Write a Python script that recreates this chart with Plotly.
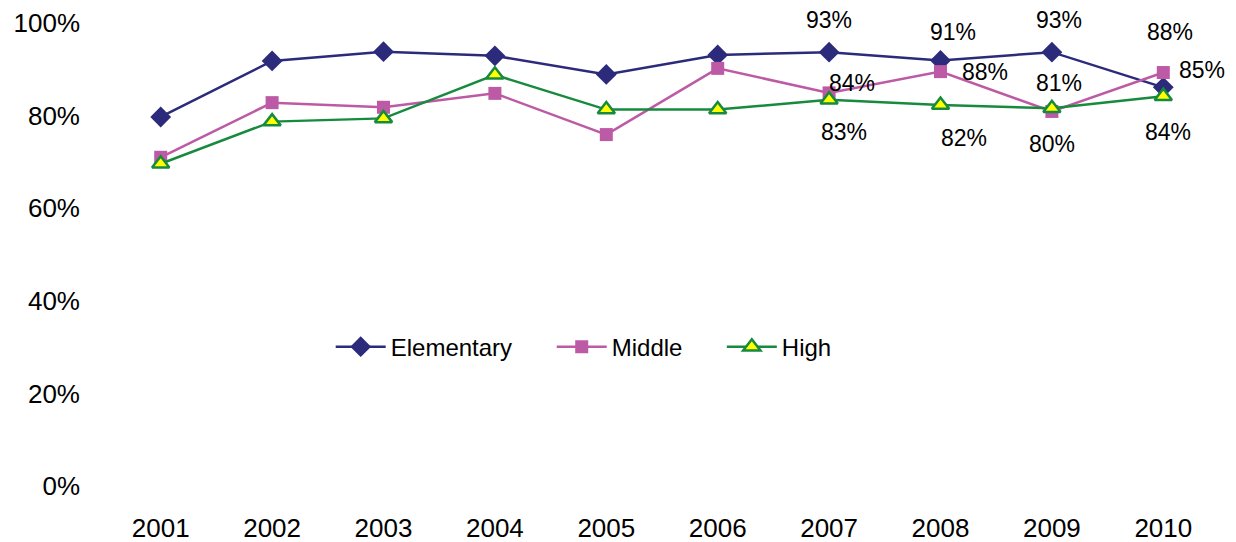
import plotly.graph_objects as go

years = [2001, 2002, 2003, 2004, 2005, 2006, 2007, 2008, 2009, 2010]
elementary = [79.7, 91.8, 93.8, 92.9, 88.9, 93.1, 93.7, 91.9, 93.7, 86.1]
middle = [71.0, 82.8, 81.8, 84.8, 75.9, 90.2, 84.9, 89.5, 80.9, 89.3]
high = [69.6, 78.7, 79.4, 88.8, 81.3, 81.3, 83.4, 82.3, 81.6, 84.2]

# data labels (year, text) per series, as printed on the chart
elem_labels = [(2007, "93%"), (2008, "91%"), (2009, "93%"), (2010, "88%")]
middle_labels = [(2007, "84%"), (2008, "88%"), (2009, "80%"), (2010, "85%")]
high_labels = [(2007, "83%"), (2008, "82%"), (2009, "81%"), (2010, "84%")]

y_ticks = [0, 20, 40, 60, 80, 100]
y_tick_text = ["0%", "20%", "40%", "60%", "80%", "100%"]

FONT = "Liberation Sans, Arial, sans-serif"
C_EL = "#2B2A7B"
C_MI = "#BD5AA5"
C_HI = "#178A3E"

fig = go.Figure()
fig.add_trace(go.Scatter(
    x=years, y=elementary, name="Elementary", mode="lines+markers",
    line=dict(color=C_EL, width=2.5),
    marker=dict(symbol="diamond", size=16, color=C_EL), legend="legend"))
fig.add_trace(go.Scatter(
    x=years, y=middle, name="Middle", mode="lines+markers",
    line=dict(color=C_MI, width=2.5),
    marker=dict(symbol="square", size=13, color=C_MI), legend="legend2"))
fig.add_trace(go.Scatter(
    x=years, y=high, name="High", mode="lines+markers",
    line=dict(color=C_HI, width=2.5),
    marker=dict(symbol="triangle-up", size=15, color="#FFFF00",
                line=dict(color=C_HI, width=2.5)), legend="legend3"))

# label placement offsets (pixels) relative to the anchored point
elem_off = [(0, 32), (12, 29), (7, 32), (7, 55)]
mid_off = [(23, 10), (44, 0), (0, -33), (39, 3)]
high_off = [(15, -32), (23, -33), (7, 25), (5, -36)]

anns = []
for labels, series, offs in ((elem_labels, elementary, elem_off),
                             (middle_labels, middle, mid_off),
                             (high_labels, high, high_off)):
    for (yr, txt), (dx, dy) in zip(labels, offs):
        anns.append(dict(x=yr, y=series[years.index(yr)], text=txt,
                         showarrow=False, xshift=dx, yshift=dy,
                         font=dict(family=FONT, size=23, color="#000000")))

def leg(x):
    return dict(orientation="h", x=x, xanchor="left", y=0.3, yanchor="middle",
                font=dict(family=FONT, size=24), bgcolor="rgba(0,0,0,0)",
                itemwidth=50)

# page body has an 8px margin, so the figure is 8px smaller than the window
fig.update_layout(
    width=1228, height=534,
    margin=dict(l=97, r=17, t=15, b=56, autoexpand=False),
    paper_bgcolor="white", plot_bgcolor="white",
    font=dict(family=FONT, size=26, color="#000000"),
    showlegend=True,
    legend=leg(0.2026), legend2=leg(0.401), legend3=leg(0.5537),
    annotations=anns,
)
fig.update_xaxes(range=[2000.5, 2010.5], tickmode="array", tickvals=years,
                 ticktext=[str(y) for y in years], showgrid=False, zeroline=False,
                 showline=False, ticks="", ticklabelstandoff=24, automargin=False,
                 tickfont=dict(family=FONT, size=26))
fig.update_yaxes(range=[0, 100], tickmode="array", tickvals=y_ticks,
                 ticktext=y_tick_text, showgrid=False, zeroline=False,
                 showline=False, ticks="", ticklabelstandoff=24, automargin=False,
                 tickfont=dict(family=FONT, size=26))

fig.write_html("out.html")
